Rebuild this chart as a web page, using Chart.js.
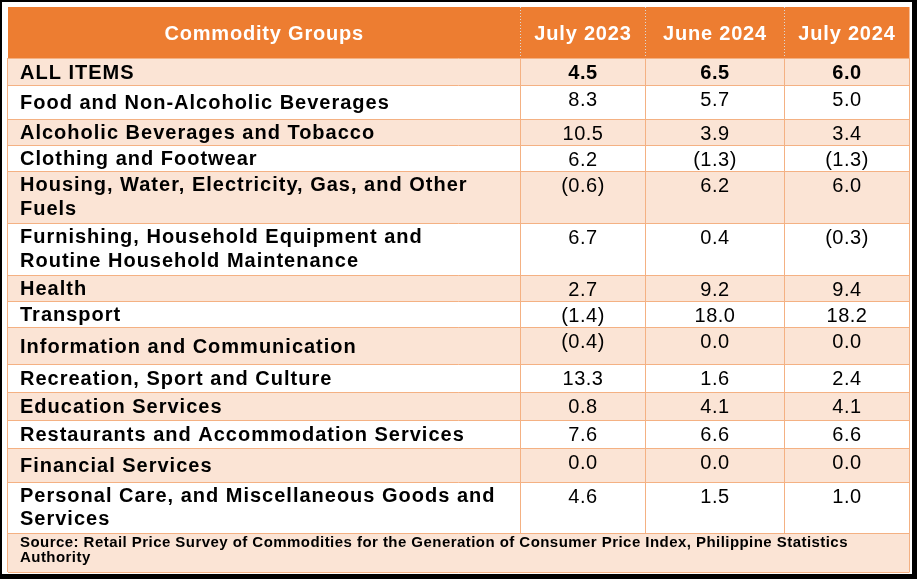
<!DOCTYPE html>
<html lang="en">
<head>
<meta charset="utf-8">
<title>Commodity Groups - Inflation Rates</title>
<script src="https://cdn.jsdelivr.net/npm/chart.js@4/dist/chart.umd.min.js"></script>
<style>
    html, body {
        margin: 0;
        padding: 0;
        background: #ffffff;
    }
    #tableChart {
        display: block;
    }
</style>
</head>
<body>
<canvas id="tableChart" width="917" height="579"></canvas>
<script>
// ==============================
//  DATA
// ==============================

// Column headers
const headerLabels = ["Commodity Groups", "July 2023", "June 2024", "July 2024"];

// Commodity groups (one entry per row, wrapped lines as in the source)
const commodityGroups = [
    ["ALL ITEMS"],
    ["Food and Non-Alcoholic Beverages"],
    ["Alcoholic Beverages and Tobacco"],
    ["Clothing and Footwear"],
    ["Housing, Water, Electricity, Gas, and Other", "Fuels"],
    ["Furnishing, Household Equipment and", "Routine Household Maintenance"],
    ["Health"],
    ["Transport"],
    ["Information and Communication"],
    ["Recreation, Sport and Culture"],
    ["Education Services"],
    ["Restaurants and Accommodation Services"],
    ["Financial Services"],
    ["Personal Care, and Miscellaneous Goods and", "Services"]
];

// Inflation rates (%), negative values are shown in parentheses
const july2023 = [4.5, 8.3, 10.5, 6.2, -0.6, 6.7, 2.7, -1.4, -0.4, 13.3, 0.8, 7.6, 0.0, 4.6];
const june2024 = [6.5, 5.7, 3.9, -1.3, 6.2, 0.4, 9.2, 18.0, 0.0, 1.6, 4.1, 6.6, 0.0, 1.5];
const july2024 = [6.0, 5.0, 3.4, -1.3, 6.0, -0.3, 9.4, 18.2, 0.0, 2.4, 4.1, 6.6, 0.0, 1.0];

const sourceNote = [
    "Source: Retail Price Survey of Commodities for the Generation of Consumer Price Index, Philippine Statistics",
    "Authority"
];

// ==============================
//  LAYOUT / STYLE
// ==============================

// Relative widths of the columns and heights of the rows
// (header, data rows..., source row), in scale units.
const columnWidths = [512.5, 125, 139, 125];
const rowHeights = [51, 27, 34, 26, 26, 52, 52, 26, 26, 37, 28, 28, 28, 34, 51, 39];

const COLORS = {
    header: "#ED7D31",
    shaded: "#FBE4D5",
    plain: "#FFFFFF",
    grid: "#F4B183",
    text: "#000000",
    headerText: "#FFFFFF"
};

const FONT_FAMILY = "'Liberation Sans', Arial, sans-serif";

// ==============================
//  HELPERS
// ==============================

function formatRate(value) {
    const text = Math.abs(value).toFixed(1);
    return value < 0 ? `(${text})` : text;
}

function cumulative(values) {
    const edges = [0];
    values.forEach(function (v) {
        edges.push(edges[edges.length - 1] + v);
    });
    return edges;
}

const columnEdges = cumulative(columnWidths);
const rowEdges = cumulative(rowHeights);
const seriesByColumn = [july2023, june2024, july2024];

// ==============================
//  TABLE PLUGIN
// ==============================

const tablePlugin = {
    id: "tablePlugin",

    beforeDraw: function (chart) {
        const ctx = chart.ctx;
        const xScale = chart.scales.x;
        const yScale = chart.scales.y;

        // Outer frame (thin top/left, thick right/bottom)
        ctx.save();
        ctx.fillStyle = "#000000";
        ctx.fillRect(0, 0, chart.width, chart.height);
        ctx.fillStyle = "#FFFFFF";
        ctx.fillRect(2, 2, chart.width - 7, chart.height - 7);

        const left = xScale.getPixelForValue(0);
        const right = xScale.getPixelForValue(columnEdges[columnEdges.length - 1]);

        // Row backgrounds
        for (let r = 0; r < rowHeights.length; r++) {
            const top = yScale.getPixelForValue(rowEdges[r]);
            const bottom = yScale.getPixelForValue(rowEdges[r + 1]);
            if (r === 0) {
                ctx.fillStyle = COLORS.header;
            } else {
                ctx.fillStyle = (r - 1) % 2 === 0 ? COLORS.shaded : COLORS.plain;
            }
            ctx.fillRect(left, top, right - left, bottom - top);
        }
        ctx.restore();
    },

    afterDraw: function (chart) {
        const ctx = chart.ctx;
        const xScale = chart.scales.x;
        const yScale = chart.scales.y;

        const left = xScale.getPixelForValue(0);
        const right = xScale.getPixelForValue(columnEdges[columnEdges.length - 1]);
        const headerBottom = yScale.getPixelForValue(rowEdges[1]);
        const sourceTop = yScale.getPixelForValue(rowEdges[rowEdges.length - 2]);
        const tableBottom = yScale.getPixelForValue(rowEdges[rowEdges.length - 1]);

        ctx.save();

        // Horizontal grid lines
        ctx.strokeStyle = COLORS.grid;
        ctx.lineWidth = 1;
        for (let r = 1; r < rowEdges.length; r++) {
            const y = Math.round(yScale.getPixelForValue(rowEdges[r])) + 0.5;
            ctx.beginPath();
            ctx.moveTo(left, y);
            ctx.lineTo(right, y);
            ctx.stroke();
        }

        // Vertical grid lines (body only, source row spans all columns)
        for (let c = 0; c < columnEdges.length; c++) {
            const x = Math.round(xScale.getPixelForValue(columnEdges[c])) - 0.5;
            const isEdge = c === 0 || c === columnEdges.length - 1;
            ctx.beginPath();
            ctx.moveTo(x, headerBottom);
            ctx.lineTo(x, isEdge ? tableBottom : sourceTop);
            ctx.stroke();
        }

        // Dotted separators inside the header
        ctx.strokeStyle = "#D9D9D9";
        ctx.setLineDash([1, 2]);
        for (let c = 1; c < columnEdges.length - 1; c++) {
            const x = Math.round(xScale.getPixelForValue(columnEdges[c])) - 0.5;
            ctx.beginPath();
            ctx.moveTo(x, yScale.getPixelForValue(0));
            ctx.lineTo(x, headerBottom);
            ctx.stroke();
        }
        ctx.setLineDash([]);

        // Header texts
        const headerMid = (yScale.getPixelForValue(0) + headerBottom) / 2;
        ctx.fillStyle = COLORS.headerText;
        ctx.font = `bold 20px ${FONT_FAMILY}`;
        ctx.letterSpacing = "0.8px";
        ctx.textAlign = "center";
        ctx.textBaseline = "alphabetic";
        headerLabels.forEach(function (label, c) {
            const cx = xScale.getPixelForValue((columnEdges[c] + columnEdges[c + 1]) / 2);
            ctx.fillText(label, cx, headerMid + 7);
        });

        // Body rows
        ctx.fillStyle = COLORS.text;
        commodityGroups.forEach(function (lines, i) {
            const r = i + 1;
            const top = yScale.getPixelForValue(rowEdges[r]);
            const bottom = yScale.getPixelForValue(rowEdges[r + 1]);
            const mid = (top + bottom) / 2;
            const lineHeight = 23.5;

            // Category label
            ctx.font = `bold 20px ${FONT_FAMILY}`;
            ctx.letterSpacing = "1px";
            ctx.textAlign = "left";
            const firstLine = mid - (lines.length - 1) * lineHeight / 2 + 7.2 - (lines.length - 1);
            lines.forEach(function (text, k) {
                ctx.fillText(text, xScale.getPixelForValue(columnEdges[0]) + 12, firstLine + k * lineHeight);
            });

            // Values (top aligned)
            ctx.font = `${i === 0 ? "bold " : ""}20px ${FONT_FAMILY}`;
            ctx.letterSpacing = "0.5px";
            ctx.textAlign = "center";
            seriesByColumn.forEach(function (series, s) {
                const c = s + 1;
                const cx = xScale.getPixelForValue((columnEdges[c] + columnEdges[c + 1]) / 2);
                ctx.fillText(formatRate(series[i]), cx, top + 21);
            });
        });

        // Source note
        ctx.font = `bold 15px ${FONT_FAMILY}`;
        ctx.letterSpacing = "0.45px";
        ctx.textAlign = "left";
        sourceNote.forEach(function (text, k) {
            ctx.fillText(text, xScale.getPixelForValue(columnEdges[0]) + 12, sourceTop + 14 + k * 14.5);
        });

        ctx.restore();
    }
};

// ==============================
//  CHART
// ==============================

document.addEventListener("DOMContentLoaded", function () {
    const context = document.getElementById("tableChart").getContext("2d");

    new Chart(context, {
        type: "scatter",
        data: {
            datasets: []
        },
        options: {
            responsive: false,
            animation: false,
            events: [],
            layout: {
                padding: { left: 8, right: 7.5, top: 7, bottom: 7 }
            },
            plugins: {
                legend: { display: false },
                tooltip: { enabled: false }
            },
            scales: {
                x: {
                    type: "linear",
                    display: false,
                    min: 0,
                    max: columnEdges[columnEdges.length - 1]
                },
                y: {
                    type: "linear",
                    display: false,
                    reverse: true,
                    min: 0,
                    max: rowEdges[rowEdges.length - 1]
                }
            }
        },
        plugins: [tablePlugin]
    });
});
</script>
</body>
</html>
